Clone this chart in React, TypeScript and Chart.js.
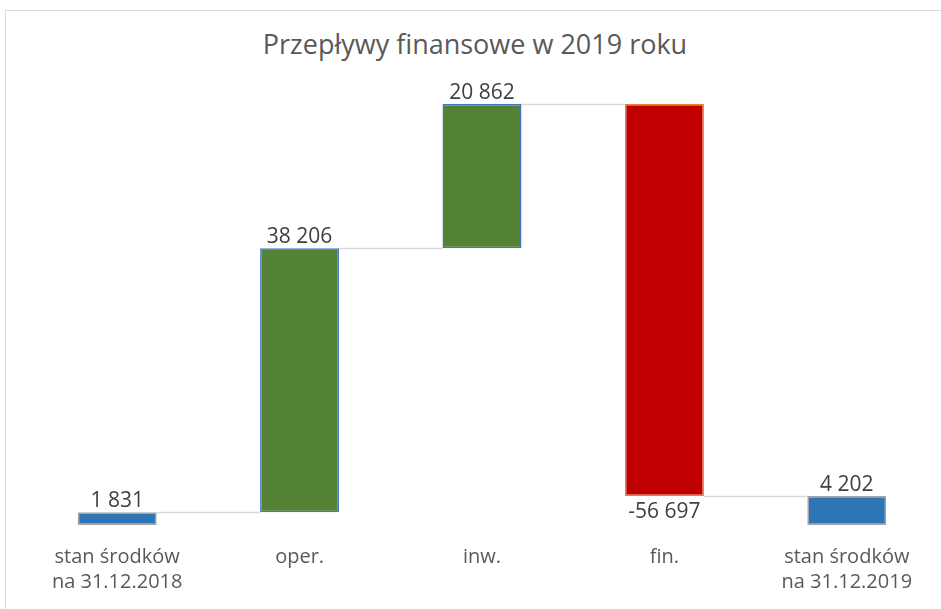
import React, { useEffect, useRef } from "react";
import { Chart, registerables } from "chart.js";

Chart.register(...registerables);

const TITLE = "Przepływy finansowe w 2019 roku";
const categories: (string | string[])[] = [
  ["stan środków", "na 31.12.2018"],
  "oper.",
  "inw.",
  "fin.",
  ["stan środków", "na 31.12.2019"],
];
const values = [1831, 38206, 20862, -56697, 4202];
const isTotal = [true, false, false, false, true];
const labelTexts = ["1 831", "38 206", "20 862", "-56 697", "4 202"];

const fillColors = ["#2E75B6", "#548235", "#548235", "#C00000", "#2E75B6"];
const borderColors = ["#A5A5A5", "#4472C4", "#4472C4", "#ED7D31", "#A5A5A5"];

const FONT = "'Open Sans', 'Liberation Sans', sans-serif";

function buildRanges(): [number, number][] {
  const out: [number, number][] = [];
  let run = 0;
  values.forEach((v, i) => {
    if (isTotal[i]) {
      out.push([0, v]);
      run = v;
    } else {
      out.push([run, run + v]);
      run = run + v;
    }
  });
  return out;
}

const waterfallPlugin = {
  id: "waterfallExtras",
  beforeDatasetsDraw(chart: any) {
    const ctx = chart.ctx;
    const meta = chart.getDatasetMeta(0);
    const ranges = chart.data.datasets[0].data as [number, number][];
    const y = chart.scales.y;
    ctx.save();
    ctx.strokeStyle = "#D9D9D9";
    ctx.lineWidth = 1.5;
    for (let i = 0; i < ranges.length - 1; i++) {
      const level = ranges[i][1];
      const a = meta.data[i];
      const b = meta.data[i + 1];
      const yy = Math.round(y.getPixelForValue(level)) + 0.5;
      ctx.beginPath();
      ctx.moveTo(a.x + a.width / 2, yy);
      ctx.lineTo(b.x - b.width / 2, yy);
      ctx.stroke();
    }
    ctx.restore();
  },
  afterDatasetsDraw(chart: any) {
    const ctx = chart.ctx;
    const meta = chart.getDatasetMeta(0);
    const ranges = chart.data.datasets[0].data as [number, number][];
    const y = chart.scales.y;
    ctx.save();
    ctx.font = `21px ${FONT}`;
    ctx.fillStyle = "#404040";
    ctx.textAlign = "center";
    ctx.textBaseline = "alphabetic";
    ranges.forEach((r, i) => {
      const el = meta.data[i];
      const top = y.getPixelForValue(Math.max(r[0], r[1]));
      const bottom = y.getPixelForValue(Math.min(r[0], r[1]));
      if (values[i] >= 0) {
        ctx.fillText(labelTexts[i], el.x, top - 5);
      } else {
        ctx.fillText(labelTexts[i], el.x, bottom + 22);
      }
    });
    ctx.restore();
  },
};

export default function App() {
  const ref = useRef<HTMLCanvasElement | null>(null);
  useEffect(() => {
    if (!ref.current) return;
    const chart = new Chart(ref.current, {
      type: "bar",
      data: {
        labels: categories as any,
        datasets: [
          {
            data: buildRanges() as any,
            backgroundColor: fillColors,
            borderColor: borderColors,
            borderWidth: 1.5,
            borderSkipped: false,
            categoryPercentage: 1,
            barPercentage: 0.433,
          },
        ],
      },
      options: {
        animation: false,
        responsive: false,
        maintainAspectRatio: false,
        layout: { padding: { left: 26, right: 3, top: 41, bottom: 0 } },
        plugins: {
          legend: { display: false },
          title: { display: false },
          tooltip: { enabled: false },
        },
        scales: {
          x: {
            grid: { display: false, drawTicks: false },
            border: { display: false },
            ticks: {
              color: "#595959",
              font: { family: FONT, size: 20, lineHeight: 1.25 },
              padding: 20,
              maxRotation: 0,
              autoSkip: false,
            },
            afterFit(scale: any) {
              scale.height = 84;
            },
          },
          y: {
            display: false,
            min: 0,
            max: 70000,
          },
        },
      },
      plugins: [waterfallPlugin],
    });
    return () => chart.destroy();
  }, []);

  return (
    <div style={{ position: "fixed", left: 0, top: 0, width: 941, height: 609, background: "#fff", overflow: "hidden" }}>
      <div
        style={{
          position: "absolute",
          left: 5,
          top: 10,
          width: 1000,
          height: 1000,
          border: "1px solid #D9D9D9",
          boxSizing: "border-box",
        }}
      />
      <div
        style={{
          position: "absolute",
          left: 0,
          width: 950,
          top: 26,
          textAlign: "center",
          fontFamily: FONT,
          fontSize: 27,
          color: "#595959",
          lineHeight: "36px",
          whiteSpace: "nowrap",
        }}
      >
        {TITLE}
      </div>
      <canvas ref={ref} width={941} height={609} style={{ position: "absolute", left: 0, top: 0 }} />
    </div>
  );
}
